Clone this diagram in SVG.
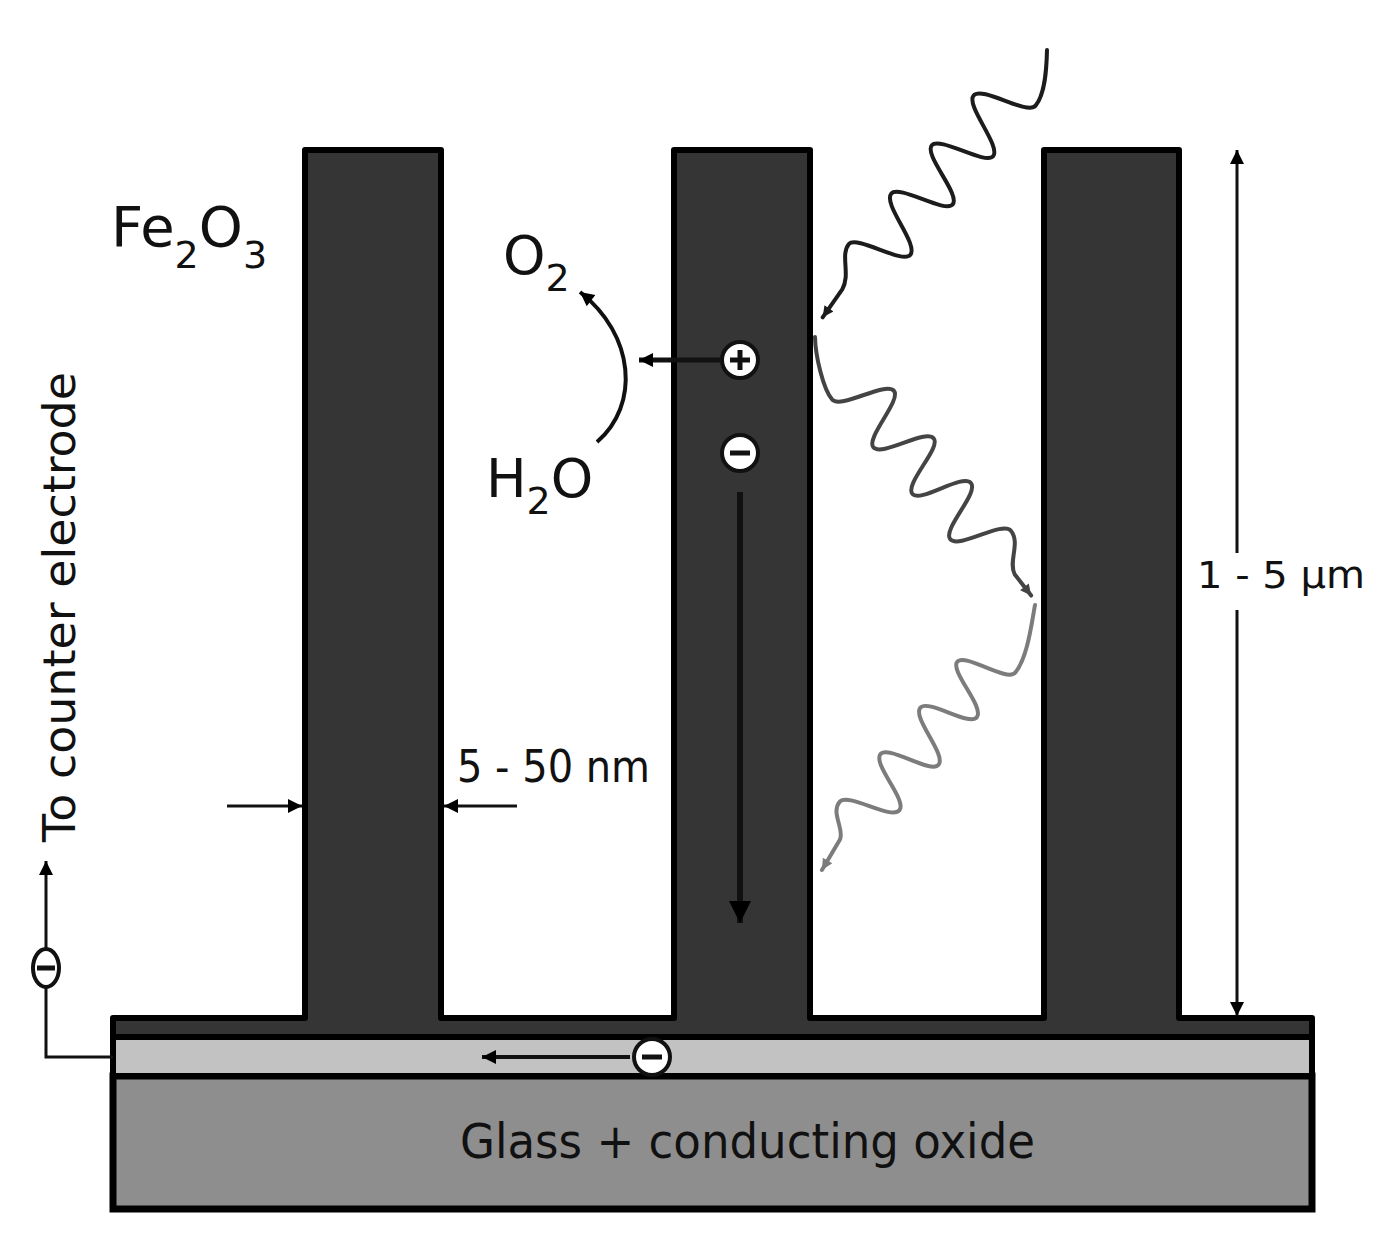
<svg xmlns="http://www.w3.org/2000/svg" width="1398" height="1251" viewBox="0 0 1398 1251">
<defs>
<style>
.t{font-family:"DejaVu Sans","Verdana","Liberation Sans",sans-serif;fill:#111}
.ln{fill:none;stroke:#111;stroke-linecap:butt}
.chg{fill:#fff;stroke:#111;stroke-width:4}
.sg{stroke:#111;stroke-width:5;stroke-linecap:butt}
.wv{fill:none;stroke-width:4;stroke-linecap:round;stroke-linejoin:round}
</style>
<marker id="ah" viewBox="0 0 10 10" refX="10" refY="5" markerWidth="17" markerHeight="14" markerUnits="userSpaceOnUse" orient="auto"><path d="M0,0 L10,5 L0,10 z" fill="#000"/></marker>
<marker id="ahL" viewBox="0 0 10 10" refX="10" refY="5" markerWidth="22" markerHeight="24" markerUnits="userSpaceOnUse" orient="auto"><path d="M0,0 L10,5 L0,10 z" fill="#000"/></marker>
<marker id="w1" viewBox="0 0 10 10" refX="10" refY="5" markerWidth="13" markerHeight="11" markerUnits="userSpaceOnUse" orient="auto"><path d="M0,0 L10,5 L0,10 z" fill="#1c1c1c"/></marker>
<marker id="w2" viewBox="0 0 10 10" refX="10" refY="5" markerWidth="13" markerHeight="11" markerUnits="userSpaceOnUse" orient="auto"><path d="M0,0 L10,5 L0,10 z" fill="#444"/></marker>
<marker id="w3" viewBox="0 0 10 10" refX="10" refY="5" markerWidth="13" markerHeight="11" markerUnits="userSpaceOnUse" orient="auto"><path d="M0,0 L10,5 L0,10 z" fill="#7c7c7c"/></marker>
</defs>
<rect width="1398" height="1251" fill="#fff"/>

<g id="glass">
<rect x="113" y="1076" width="1199" height="133" fill="#8e8e8e" stroke="#000" stroke-width="7"/>
<text class="t" x="460" y="1158" font-size="48" textLength="575" lengthAdjust="spacingAndGlyphs">Glass + conducting oxide</text>
</g>
<g id="tco">
<rect x="113" y="1037" width="1199" height="39" fill="#c2c2c2" stroke="#000" stroke-width="6"/>
</g>
<g id="fe2o3">
<path d="M113,1037 V1018 H305 V150 H441 V1018 H674 V150 H810 V1018 H1044 V150 H1179 V1018 H1312 V1037 Z" fill="#353535" stroke="#000" stroke-width="6" stroke-linejoin="round"/>
<text class="t" x="111" y="246" font-size="56">Fe<tspan font-size="38" dy="22">2</tspan><tspan dy="-22">O</tspan><tspan font-size="38" dy="22">3</tspan></text>
</g>

<g id="labels">
<text class="t" x="503" y="274" font-size="54">O<tspan font-size="38" dy="17">2</tspan></text>
<text class="t" x="486" y="497" font-size="54">H<tspan font-size="38" dy="17">2</tspan><tspan dy="-17">O</tspan></text>
<text class="t" x="457" y="782" font-size="45" textLength="193" lengthAdjust="spacingAndGlyphs">5 - 50 nm</text>
<text class="t" x="1197" y="588" font-size="37" textLength="168" lengthAdjust="spacingAndGlyphs">1 - 5 µm</text>
<text class="t" transform="translate(75,842) rotate(-90)" x="0" y="0" font-size="45" textLength="470" lengthAdjust="spacingAndGlyphs">To counter electrode</text>
</g>

<g id="connectors">
<path class="wv" stroke="#1c1c1c" marker-end="url(#w1)" transform="translate(1047,50) rotate(130)" d="M0,0 C15,-12 35,-27 50,-27 C63,-27 69,27 82,27 C95,27 103,-27 116,-27 C128,-27 135,27 147,27 C160,27 166,-27 179,-27 C191,-27 198,27 210,27 C224,27 231,-27 245,-27 C257,-27 264,27 276,27 C290,27 298,6 315,3 L349,0"/>
<path class="wv" stroke="#444" marker-end="url(#w2)" transform="translate(815,337) rotate(50.1)" d="M0,0 C15,12 45,27 59,27 C72,27 79,-26 92,-26 C104,-26 110,26 122,26 C135,26 141,-26 154,-26 C166,-26 170,26 183,26 C195,26 199,-26 212,-26 C225,-26 229,26 242,26 C255,26 261,-26 274,-26 C290,-26 296,-4 310,-1 L337,0"/>
<path class="wv" stroke="#7c7c7c" marker-end="url(#w3)" transform="translate(1035,605) rotate(128.8)" d="M0,0 C15,-8 45,-27 65,-27 C78,-27 81,25 93,25 C105,25 111,-25 124,-25 C136,-25 140,25 152,25 C165,25 172,-25 185,-25 C197,-25 201,27 213,27 C226,27 232,-23 245,-23 C258,-23 263,29 276,29 C290,29 294,8 305,5 L340,0"/>
<path class="ln" stroke-width="4" marker-end="url(#ah)" d="M597,442 C640,405 635,335 580,292"/>
<line class="ln" stroke-width="5" x1="720" y1="360" x2="639" y2="360" marker-end="url(#ah)"/>
<line class="ln" stroke-width="6" x1="740" y1="492" x2="740" y2="923" marker-end="url(#ahL)"/>
<line class="ln" stroke-width="4" x1="630" y1="1057" x2="482" y2="1057" marker-end="url(#ah)"/>
<polyline class="ln" stroke-width="3" points="113,1057 46,1057 46,986"/>
<line class="ln" stroke-width="3" x1="46" y1="950" x2="46" y2="861" marker-end="url(#ah)"/>
<line class="ln" stroke="#555" stroke-width="3" x1="1237" y1="553" x2="1237" y2="150" marker-end="url(#ah)"/>
<line class="ln" stroke="#555" stroke-width="3" x1="1237" y1="610" x2="1237" y2="1016" marker-end="url(#ah)"/>
<line class="ln" stroke="#222" stroke-width="3" x1="227" y1="806" x2="302" y2="806" marker-end="url(#ah)"/>
<line class="ln" stroke="#222" stroke-width="3" x1="517" y1="806" x2="444" y2="806" marker-end="url(#ah)"/>
</g>

<g id="hole">
<circle class="chg" cx="740" cy="360" r="18"/>
<line class="sg" x1="730" y1="360" x2="750" y2="360"/>
<line class="sg" x1="740" y1="350" x2="740" y2="370"/>
</g>
<g id="electron-pillar">
<circle class="chg" cx="740" cy="453" r="18"/>
<line class="sg" stroke-width="6" x1="730" y1="453" x2="750" y2="453"/>
</g>
<g id="electron-tco">
<circle class="chg" cx="652" cy="1057" r="18"/>
<line class="sg" stroke-width="6" x1="642" y1="1057" x2="662" y2="1057"/>
</g>
<g id="electron-external">
<ellipse class="chg" stroke-width="3" cx="46" cy="968" rx="13" ry="19"/>
<line class="sg" stroke-width="6" x1="37" y1="968" x2="55" y2="968"/>
</g>
</svg>
